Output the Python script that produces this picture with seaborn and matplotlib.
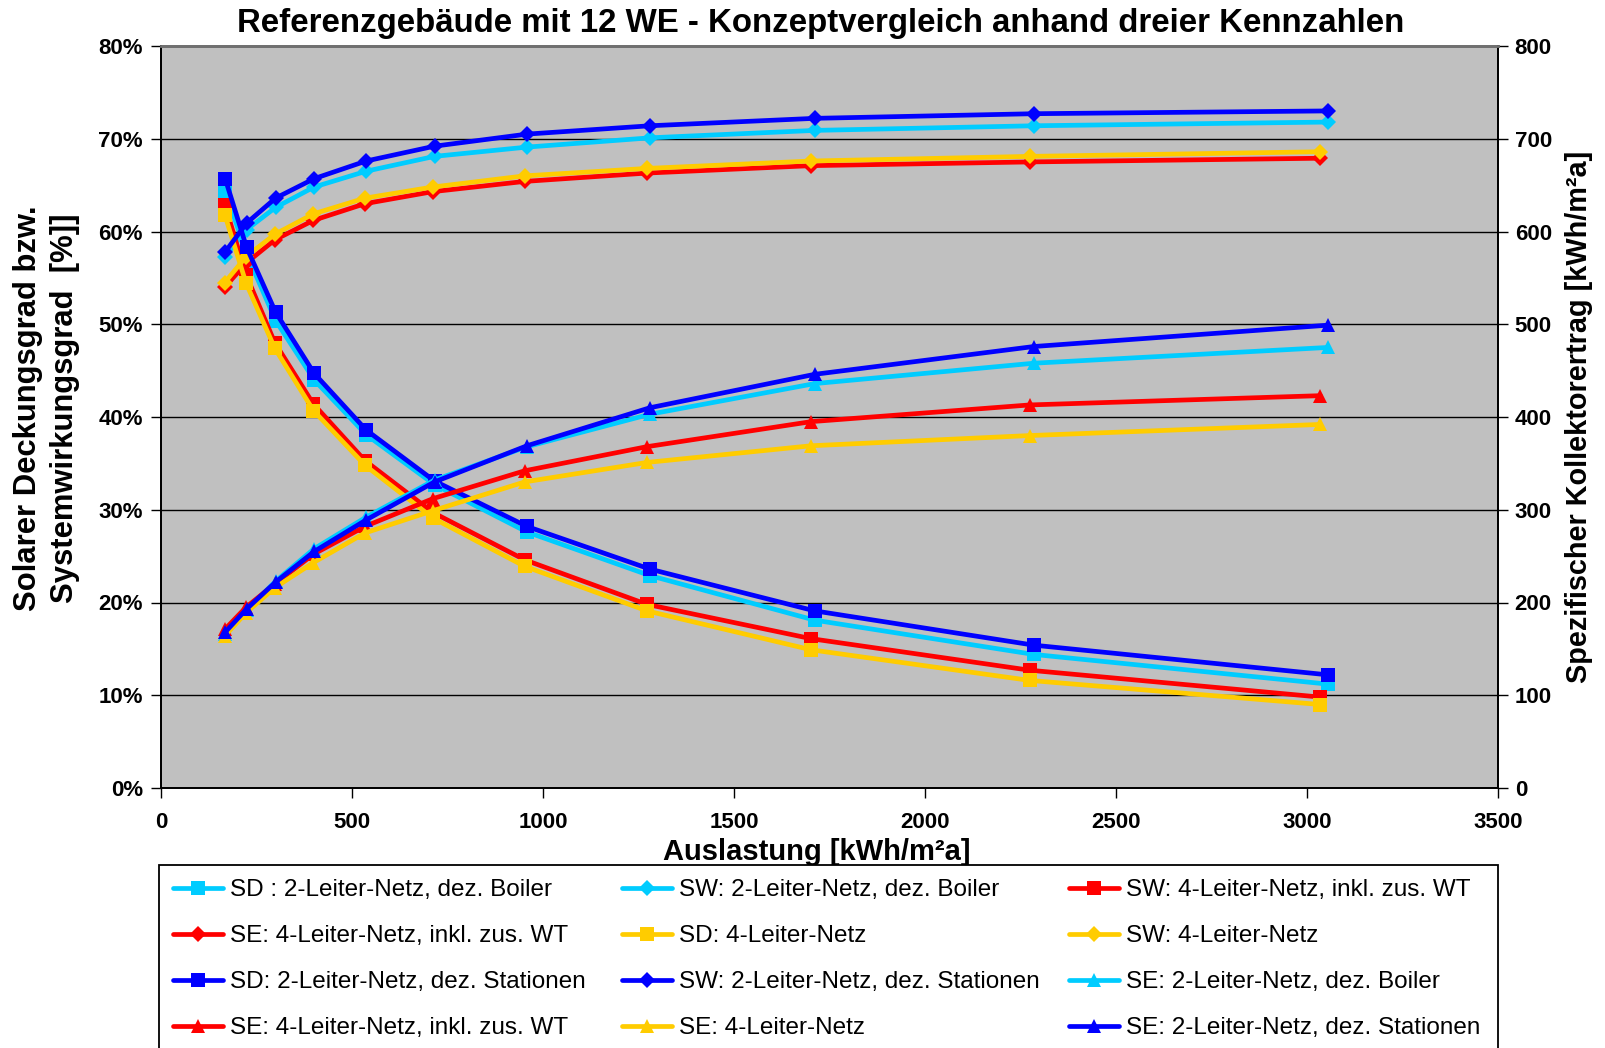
import numpy as np
import pandas as pd
import matplotlib as mpl
mpl.use("Agg")
import matplotlib.pyplot as plt
from matplotlib.patches import Rectangle
from matplotlib.ticker import FuncFormatter, MultipleLocator
import seaborn as sns

# Auslastung [kWh/m2a] per net type
x_2l = [168, 224, 300, 401, 537, 716, 958, 1280, 1711, 2285, 3055]
x_4l = [167, 223, 298, 399, 534, 712, 952, 1272, 1702, 2274, 3035]

# SD: solarer Deckungsgrad [%]
sd_boiler = [64.4, 57.6, 50.4, 44.0, 38.1, 32.7, 27.6, 22.9, 18.1, 14.4, 11.2]
sd_wt = [62.9, 55.3, 48.0, 41.4, 35.3, 29.7, 24.6, 19.8, 16.1, 12.7, 9.8]
sd_4l = [61.8, 54.4, 47.4, 40.7, 34.8, 29.1, 23.9, 19.1, 14.9, 11.6, 9.0]
sd_stat = [65.7, 58.3, 51.3, 44.7, 38.6, 33.1, 28.2, 23.6, 19.1, 15.4, 12.2]

# SW: Systemwirkungsgrad [%]
sw_boiler = [57.3, 60.2, 62.6, 64.8, 66.5, 68.1, 69.1, 70.1, 70.9, 71.4, 71.8]
sw_wt = [54.0, 56.6, 59.1, 61.2, 63.0, 64.3, 65.4, 66.3, 67.1, 67.5, 67.9]
sw_4l = [54.5, 57.3, 59.7, 61.9, 63.6, 64.8, 66.0, 66.8, 67.6, 68.1, 68.6]
sw_stat = [57.8, 60.9, 63.6, 65.7, 67.6, 69.2, 70.5, 71.4, 72.2, 72.7, 73.0]

# SE: spezifischer Kollektorertrag [kWh/m2a]
se_boiler = [166, 192, 223, 258, 292, 332, 368, 403, 436, 458, 475]
se_wt = [171, 195, 220, 252, 282, 312, 342, 368, 395, 413, 423]
se_4l = [164, 189, 216, 243, 275, 299, 330, 351, 369, 380, 392]
se_stat = [168, 193, 222, 255, 289, 330, 369, 410, 446, 476, 499]

CYAN, RED, YELLOW, BLUE = "#00CCFF", "#FF0000", "#FFCC00", "#0000FF"

# series in Excel order: (label, x, y, colour, marker, axis)
series = [
    ("SD : 2-Leiter-Netz, dez. Boiler", x_2l, sd_boiler, CYAN, "s", "l"),
    ("SW: 2-Leiter-Netz, dez. Boiler", x_2l, sw_boiler, CYAN, "D", "l"),
    ("SW: 4-Leiter-Netz, inkl. zus. WT", x_4l, sd_wt, RED, "s", "l"),
    ("SE: 4-Leiter-Netz, inkl. zus. WT", x_4l, sw_wt, RED, "D", "l"),
    ("SD: 4-Leiter-Netz", x_4l, sd_4l, YELLOW, "s", "l"),
    ("SW: 4-Leiter-Netz", x_4l, sw_4l, YELLOW, "D", "l"),
    ("SD: 2-Leiter-Netz, dez. Stationen", x_2l, sd_stat, BLUE, "s", "l"),
    ("SW: 2-Leiter-Netz, dez. Stationen", x_2l, sw_stat, BLUE, "D", "l"),
    ("SE: 2-Leiter-Netz, dez. Boiler", x_2l, se_boiler, CYAN, "^", "r"),
    ("SE: 4-Leiter-Netz, inkl. zus. WT", x_4l, se_wt, RED, "^", "r"),
    ("SE: 4-Leiter-Netz", x_4l, se_4l, YELLOW, "^", "r"),
    ("SE: 2-Leiter-Netz, dez. Stationen", x_2l, se_stat, BLUE, "^", "r"),
]
marker_sizes = {"s": 9.5, "D": 8.0, "^": 9.5}

sns.set_theme(style="white")
plt.rcParams["font.family"] = ["Liberation Sans", "DejaVu Sans"]
plt.rcParams["font.weight"] = "bold"
for key in ("text.color", "axes.labelcolor", "xtick.color", "ytick.color"):
    plt.rcParams[key] = "black"

W, H = 1606, 1048
fig = plt.figure(figsize=(W / 100, H / 100), dpi=100)
ax = fig.add_axes([161 / W, 1 - 788 / H, (1498 - 161) / W, (788 - 46) / H])
ax.set_facecolor("#C0C0C0")
ax2 = ax.twinx()

handles = []
for label, xs, ys, col, mk, side in series:
    target = ax if side == "l" else ax2
    df = pd.DataFrame({"x": xs, "y": ys})
    sns.lineplot(data=df, x="x", y="y", ax=target, color=col, marker=mk,
                 markersize=marker_sizes[mk], markeredgewidth=0, linewidth=3.4,
                 sort=False)
    line = target.lines[-1]
    handles.append((line, label))

ax.set_xlim(0, 3500)
ax.set_ylim(0, 80)
ax2.set_ylim(0, 800)
ax.xaxis.set_major_locator(MultipleLocator(500))
ax.yaxis.set_major_locator(MultipleLocator(10))
ax2.yaxis.set_major_locator(MultipleLocator(100))
ax.yaxis.set_major_formatter(FuncFormatter(lambda v, p: f"{v:.0f}%"))

ax.grid(axis="y", color="black", linewidth=1.0)
ax.set_axisbelow(True)
for a in (ax, ax2):
    for s in a.spines.values():
        s.set_color("black")
        s.set_linewidth(1.3)
    a.spines["top"].set_color("#707070")
    a.spines["top"].set_linewidth(2)
    a.tick_params(direction="out", length=7, width=1, color="black",
                  labelsize=16, left=(a is ax), bottom=(a is ax), right=(a is ax2))
ax.tick_params(axis="x", pad=10.5)
ax.tick_params(axis="y", pad=6)
ax2.tick_params(axis="y", pad=5)

ax.set_xlabel("Auslastung [kWh/m²a]", fontsize=21, fontweight="bold")
ax.xaxis.set_label_coords((817 - 161) / 1337, -(838 - 788) / 742)
ax.set_ylabel("Solarer Deckungsgrad bzw.\nSystemwirkungsgrad  [%]]", fontsize=22.3,
              fontweight="bold", linespacing=1.32)
ax.yaxis.set_label_coords((80 - 161) / 1337, 0.512)
ax2.set_ylabel("Spezifischer Kollektorertrag [kWh/m²a]", fontsize=20.8, fontweight="bold")
ax2.yaxis.set_label_coords((1565 - 161) / 1337, 0.5)
ax.set_title("Referenzgebäude mit 12 WE - Konzeptvergleich anhand dreier Kennzahlen",
             fontsize=23.8, fontweight="bold", x=(821 - 161) / 1337, pad=10)

for a in (ax, ax2):
    if a.get_legend() is not None:
        a.get_legend().remove()

# legend frame (cut by the lower figure edge as in the original)
fig.patches.append(Rectangle((159 / W, -0.02), (1498 - 159) / W, 1 - 865 / H + 0.02,
                             transform=fig.transFigure, facecolor="white",
                             edgecolor="black", linewidth=1.3, zorder=0))

col_x = [173, 622, 1069]
for c in range(3):
    items = handles[c::3]
    fig.legend([h for h, _ in items], [l for _, l in items], loc="upper left",
               bbox_to_anchor=(col_x[c] / W, 1 - 879 / H), bbox_transform=fig.transFigure,
               frameon=False, borderpad=0, borderaxespad=0, handlelength=2.05,
               handletextpad=0.3, labelspacing=0.99,
               prop={"size": 17.5, "weight": "normal"})

fig.savefig("out.png", dpi=100)
